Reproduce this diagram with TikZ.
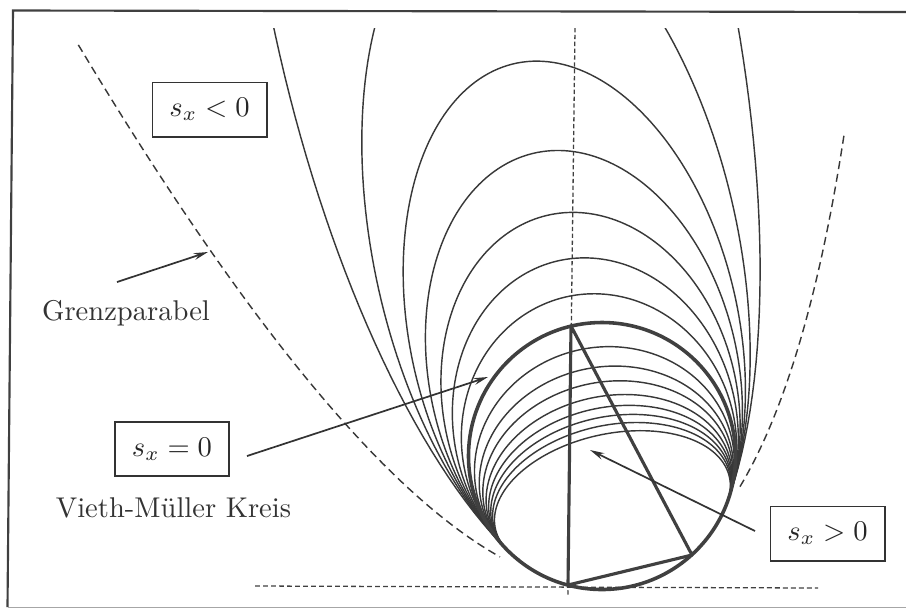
\documentclass[tikz,border=0pt]{standalone}
\usetikzlibrary{arrows.meta}
\begin{document}
\begin{tikzpicture}[x=0.35pt,y=-0.35pt,
  thincurve/.style={line width=0.5pt, black!78},
  thickcurve/.style={line width=1.25pt, black!75},
  box/.style={draw=black!80, line width=0.6pt, minimum width=40pt, minimum height=19pt, inner sep=1pt, text=black!85},
  labeltext/.style={font=\fontsize{10}{12}\selectfont, text=black!80, inner sep=0pt},
  pointer/.style={line width=0.6pt, black!80, -{Stealth[length=5pt,width=2.4pt]}},
  axisdash/.style={line width=0.45pt, black!75, dash pattern=on 1.5pt off 0.9pt},
  basedash/.style={line width=0.45pt, black!75, dash pattern=on 1.7pt off 1.1pt},
  paradash/.style={line width=0.5pt, black!78, dash pattern=on 2.8pt off 1.7pt},
  framestyle/.style={line width=0.75pt, black!75}]
\useasboundingbox (0,0) rectangle (906,609);
% frame
\draw[framestyle] (906,12) -- (13,10.5) -- (7.5,607);
\draw[line width=0.5pt, black!35] (7.5,607.5) -- (906,607.5);
% axes
\coordinate (axT) at (575,28);
\coordinate (axB) at (568,597);
\draw[axisdash] (axT) -- (axB);
\coordinate (hL) at (255,586);
\coordinate (hR) at (818,588);
\draw[basedash] (hL) -- (hR);
% limit parabola (Grenzparabel)
\draw[paradash] plot[domain=-4.13:-1.225, samples=70, variable=\s]
  ({602+100*(0.9724*\s-0.2334*(0.389*\s*\s+0.0307*\s-1.279))},
   {457+100*(-0.2334*\s-0.9724*(0.389*\s*\s+0.0307*\s-1.279))});
\draw[paradash] plot[domain=1.272:3.108, samples=60, variable=\s]
  ({602+100*(0.9724*\s-0.2334*(0.389*\s*\s+0.0307*\s-1.279))},
   {457+100*(-0.2334*\s-0.9724*(0.389*\s*\s+0.0307*\s-1.279))});
% family of curves (bitangent pencil)
\def\cx{602}\def\cy{456}\def\rr{1.335}\def\dd{0.72}
\def\ux{0.97630}\def\uy{-0.21644}\def\vx{-0.21644}\def\vy{-0.97630}
\begin{scope}
\clip (0,28) rectangle (906,609);
\foreach \k in {-0.868,-0.747,-0.640,-0.537,-0.424,-0.300,-0.159,0.185,0.388,0.591,0.837,1.087,1.349,1.64,2.01}{
  \pgfmathsetmacro{\yc}{-\k*\dd/(1+\k)}
  \pgfmathsetmacro{\RR}{\rr*\rr-\k*\dd*\dd/(1+\k)}
  \pgfmathsetmacro{\A}{sqrt(\RR)}
  \pgfmathsetmacro{\B}{sqrt(\RR/(1+\k))}
  \pgfmathsetmacro{\tz}{asin((-\dd-\yc)/\B)}
  \pgfmathsetmacro{\sp}{sqrt((\A*sin(\tz))^2+(\B*cos(\tz))^2)}
  \pgfmathsetmacro{\ts}{\tz-(0.14/\sp)*57.3}
  \pgfmathsetmacro{\te}{180-\ts}
  \draw[thincurve] plot[domain=\ts:\te, samples=160, variable=\t]
    ({\cx+100*(\ux*\A*cos(\t)+\vx*(\yc+\B*sin(\t)))},
     {\cy+100*(\uy*\A*cos(\t)+\vy*(\yc+\B*sin(\t)))});
}
\end{scope}
% Vieth-Mueller circle
\draw[thickcurve] (602,456) circle[radius=133.5];
% inscribed triangle
\coordinate (tA) at (571,326);
\coordinate (tB) at (568,585);
\coordinate (tC) at (692,555);
\draw[line width=1.1pt, black!75, line join=round] (tA) -- (tB) -- (tC) -- cycle;
% labels
\node[box] (neg) at (209.5,109.5) {$s_x<0$};
\node[box] (zero) at (172,449) {$s_x=0$};
\node[box] (pos) at (827.5,533.5) {$s_x>0$};
\node[labeltext, anchor=base] (grenz) at (126,320) {Grenzparabel};
\node[labeltext, anchor=base] (vm) at (173.5,517) {Vieth-Müller Kreis};
% pointers
\coordinate (gA) at (117,282);
\coordinate (gB) at (208,252);
\draw[pointer] (gA) -- (gB);
\coordinate (zA) at (247,456);
\coordinate (zB) at (488,377);
\draw[pointer] (zA) -- (zB);
\coordinate (pA) at (755,531);
\coordinate (pB) at (590,450);
\draw[pointer] (pA) -- (pB);
\end{tikzpicture}
\end{document}
